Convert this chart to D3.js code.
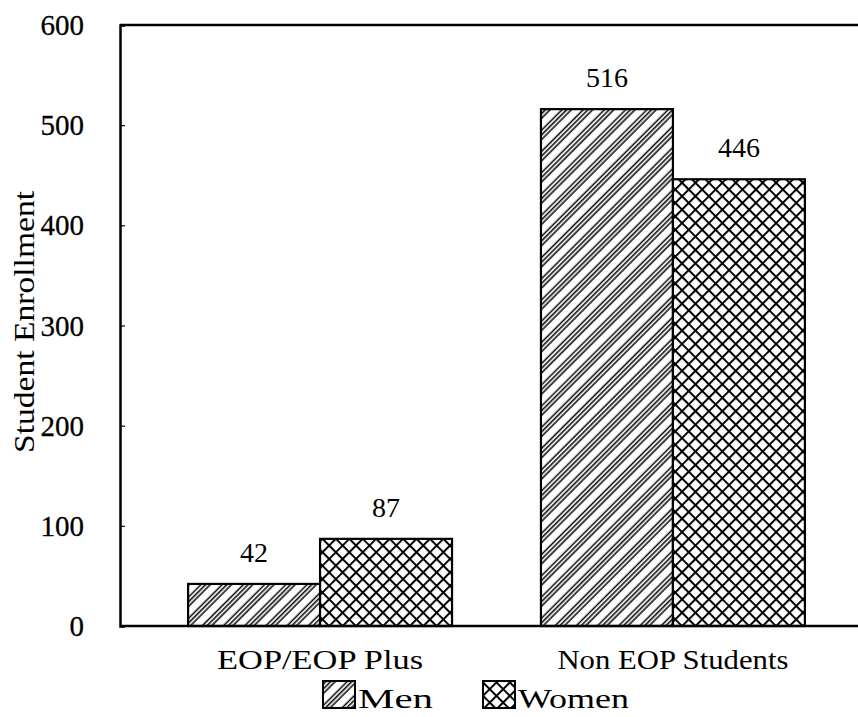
<!DOCTYPE html>
<html><head><meta charset="utf-8">
<script src="https://cdn.jsdelivr.net/npm/d3@7"></script>
<style>body{margin:0;background:#fff}svg{display:block}</style>
</head><body>
<svg id="c" width="858" height="717"></svg>
<script>
const categories = ["EOP/EOP Plus", "Non EOP Students"];
const seriesNames = ["Men", "Women"];
const menValues = [42, 516];
const womenValues = [87, 446];
const yTicks = [0, 100, 200, 300, 400, 500, 600];

const FONT = "Liberation Serif";
const svg = d3.select("#c");
const defs = svg.append("defs");
// Men: triple diagonal lines
const pm = defs.append("pattern").attr("id","pMen").attr("patternUnits","userSpaceOnUse")
  .attr("width",15).attr("height",15).attr("patternTransform","rotate(45)");
pm.append("rect").attr("width",15).attr("height",15).attr("fill","#fff");
[2.5,5.8,9.1].forEach(x=>pm.append("line").attr("x1",x).attr("x2",x).attr("y1",0).attr("y2",15).attr("stroke","#000").attr("stroke-width",1.5));
// Women: crosshatch
const pw = defs.append("pattern").attr("id","pWomen").attr("patternUnits","userSpaceOnUse")
  .attr("width",9.5).attr("height",9.5).attr("patternTransform","rotate(45)");
pw.append("rect").attr("width",9.5).attr("height",9.5).attr("fill","#fff");
pw.append("line").attr("x1",1).attr("x2",1).attr("y1",0).attr("y2",9.5).attr("stroke","#000").attr("stroke-width",2);
pw.append("line").attr("y1",1).attr("y2",1).attr("x1",0).attr("x2",9.5).attr("stroke","#000").attr("stroke-width",2);

const fills = {Men:"url(#pMen)", Women:"url(#pWomen)"};

const y = d3.scaleLinear().domain([0,600]).range([626,25]);
const x0 = d3.scaleBand().domain(categories).range([120,873]).paddingInner(0.252).paddingOuter(0.193);
const x1 = d3.scaleBand().domain(seriesNames).range([0,x0.bandwidth()]);

const data = categories.map((c,i)=>({cat:c, vals:[{s:"Men",v:menValues[i]},{s:"Women",v:womenValues[i]}]}));

function txt(sel, size){ return sel.style("font-family",FONT).attr("font-family",FONT).attr("font-size",size).attr("fill","#000"); }

const g = svg.append("g").selectAll("g").data(data).join("g")
  .attr("transform",d=>`translate(${x0(d.cat)},0)`);
g.selectAll("rect").data(d=>d.vals).join("rect")
  .attr("x",d=>x1(d.s)).attr("width",x1.bandwidth())
  .attr("y",d=>y(d.v)).attr("height",d=>y(0)-y(d.v))
  .attr("fill",d=>fills[d.s]).attr("stroke","#000").attr("stroke-width",2.2);
txt(g.selectAll("text").data(d=>d.vals).join("text")
  .attr("x",d=>x1(d.s)+x1.bandwidth()/2).attr("y",d=>y(d.v)-22)
  .attr("text-anchor","middle"), 28).text(d=>d.v);

// frame lines
svg.append("line").attr("x1",120).attr("x2",858).attr("y1",y(600)).attr("y2",y(600)).attr("stroke","#000").attr("stroke-width",2.5);
svg.append("line").attr("x1",120).attr("x2",858).attr("y1",y(0)).attr("y2",y(0)).attr("stroke","#000").attr("stroke-width",2.5);

// y axis
const ya = svg.append("g").attr("transform","translate(120,0)")
  .call(d3.axisRight(y).tickValues(yTicks).tickSize(5).tickFormat(""));
ya.select(".domain").attr("stroke-width",2.5);
ya.selectAll(".tick line").attr("stroke-width",1.2);
txt(svg.append("g").selectAll("text").data(yTicks).join("text")
  .attr("x",84).attr("y",d=>y(d)).attr("dy","0.35em").attr("text-anchor","end"), 29)
  .attr("stroke","#000").attr("stroke-width",0.3)
  .text(d=>d);

txt(svg.append("text").attr("transform","translate(34,322) rotate(-90)").attr("text-anchor","middle"), 30)
  .attr("textLength",262).attr("lengthAdjust","spacingAndGlyphs")
  .text("Student Enrollment");

// category labels
const catLen = [206, 231];
txt(svg.append("g").selectAll("text").data(categories).join("text")
  .attr("x",d=>x0(d)+x0.bandwidth()/2).attr("y",669).attr("text-anchor","middle")
  .attr("textLength",(d,i)=>catLen[i]).attr("lengthAdjust","spacingAndGlyphs"), 27).text(d=>d);

// legend
const legX = [323, 483];
const legLen = [75, 111];
const lg = svg.append("g").selectAll("g").data(seriesNames).join("g")
  .attr("transform",(d,i)=>`translate(${legX[i]},681)`);
lg.append("rect").attr("width",32).attr("height",27).attr("fill",d=>fills[d]).attr("stroke","#000").attr("stroke-width",2);
txt(lg.append("text").attr("x",35).attr("y",27)
  .attr("textLength",(d,i)=>legLen[i]).attr("lengthAdjust","spacingAndGlyphs"), 28).text(d=>d);
</script>
</body></html>
